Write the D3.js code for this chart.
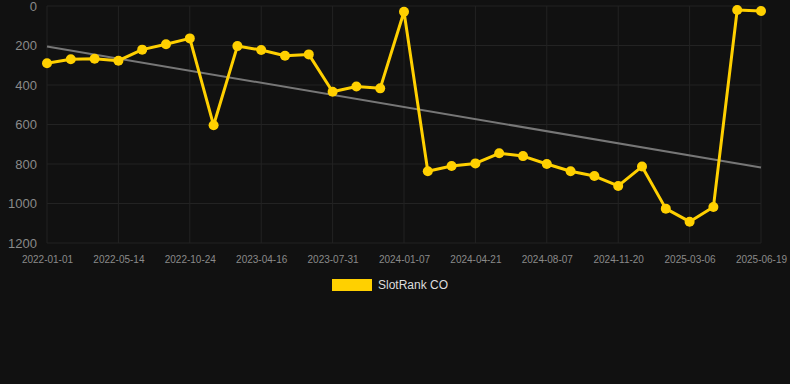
<!DOCTYPE html>
<html><head><meta charset="utf-8">
<script src="https://cdn.jsdelivr.net/npm/d3@7"></script>
<style>html,body{margin:0;padding:0;background:#111111;}svg{display:block;font-family:"Liberation Sans",Arial,sans-serif;}</style>
</head><body>
<svg id="c" width="790" height="384"></svg>
<script>
const categories = ["2022-01-01","2022-02-13","2022-03-29","2022-05-14","2022-07-06","2022-08-29","2022-10-24","2022-12-22","2023-02-18","2023-04-16","2023-05-21","2023-06-25","2023-07-31","2023-09-22","2023-11-14","2024-01-07","2024-02-10","2024-03-16","2024-04-21","2024-05-28","2024-07-02","2024-08-07","2024-09-12","2024-10-16","2024-11-20","2024-12-25","2025-01-29","2025-03-06","2025-04-10","2025-05-15","2025-06-19"];
const rankValues = [290,270,267,277,221,194,164,604,203,223,252,245,434,408,417,29,837,810,797,746,760,800,837,861,911,813,1026,1092,1018,20,25];
const yTicks = [0,200,400,600,800,1000,1200];
const seriesName = "SlotRank CO";

(function(){
const svg = d3.select("#c");
const pl = 47, pr = 761, pt = 6, pb = 243;
const x = d3.scalePoint().domain(categories).range([pl, pr]);
const y = d3.scaleLinear().domain([0, 1200]).range([pt, pb]);
const labeled = categories.filter((d, i) => i % 3 === 0);

const g = svg.append("g");
g.selectAll("line.h").data(yTicks).join("line")
  .attr("x1", pl).attr("x2", pr).attr("y1", d => y(d)).attr("y2", d => y(d))
  .attr("stroke", "#232323").attr("stroke-width", 1);
g.selectAll("line.v").data(labeled).join("line")
  .attr("x1", d => x(d)).attr("x2", d => x(d)).attr("y1", pt).attr("y2", pb)
  .attr("stroke", "#232323").attr("stroke-width", 1);

const yAxis = svg.append("g").attr("transform", `translate(${pl - 10},0)`)
  .call(d3.axisLeft(y).tickValues(yTicks).tickFormat(d3.format("d")).tickSize(0).tickPadding(0));
yAxis.select(".domain").remove();
yAxis.selectAll("text").attr("fill", "#8a8a8a").style("font-size", "13px");

const xAxis = svg.append("g").attr("transform", `translate(0,${pb + 7})`)
  .call(d3.axisBottom(x).tickValues(labeled).tickSize(0).tickPadding(6));
xAxis.select(".domain").remove();
xAxis.selectAll("text").attr("fill", "#8a8a8a").style("font-size", "10px");

const n = rankValues.length;
const xs = d3.range(n);
const mx = d3.mean(xs), my = d3.mean(rankValues);
const slope = d3.sum(xs, i => (i - mx) * (rankValues[i] - my)) / d3.sum(xs, i => (i - mx) ** 2);
const icpt = my - slope * mx;
svg.append("line")
  .attr("x1", x(categories[0])).attr("y1", y(icpt))
  .attr("x2", x(categories[n - 1])).attr("y2", y(icpt + slope * (n - 1)))
  .attr("stroke", "#777777").attr("stroke-width", 2);

const line = d3.line().x((d, i) => x(categories[i])).y(d => y(d));
svg.append("path").datum(rankValues).attr("d", line)
  .attr("fill", "none").attr("stroke", "#FFD000").attr("stroke-width", 3).attr("stroke-linejoin", "round");
svg.selectAll("circle.p").data(rankValues).join("circle")
  .attr("cx", (d, i) => x(categories[i])).attr("cy", d => y(d)).attr("r", 5)
  .attr("fill", "#FFD000");

const lg = svg.append("g");
lg.append("rect").attr("x", 332).attr("y", 279).attr("width", 40).attr("height", 12).attr("fill", "#FFD000");
lg.append("text").attr("x", 378).attr("y", 289).attr("fill", "#dddddd").style("font-size", "12px").text(seriesName);
})();
</script>
</body></html>
